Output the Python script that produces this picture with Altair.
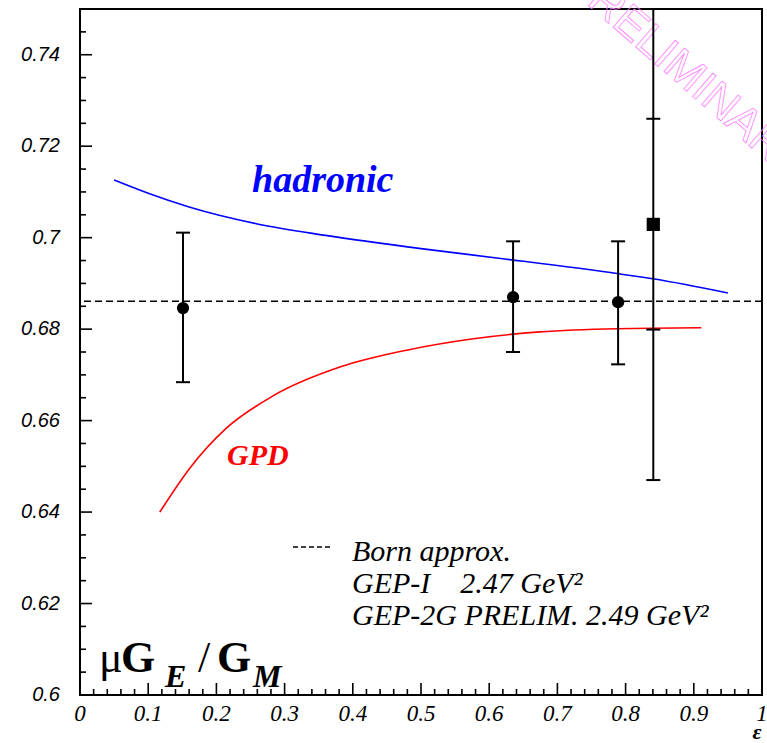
import altair as alt
import pandas as pd

# ---------------- data ----------------
circ_eps = [0.151, 0.635, 0.789]
circ_ratio = [0.6846, 0.6870, 0.6859]
circ_low = [0.6684, 0.6750, 0.6723]
circ_high = [0.7011, 0.6992, 0.6992]

sq_eps = [0.8406]
sq_ratio = [0.7029]
sq_stat_low = [0.6799]
sq_stat_high = [0.7260]
sq_tot_low = [0.6470]
sq_tot_high = [0.7590]

had_eps = [0.05, 0.10, 0.16, 0.26, 0.36, 0.50, 0.62, 0.79, 0.84, 0.95]
had_ratio = [0.7126, 0.7097, 0.7067, 0.7030, 0.7005, 0.6976, 0.6954, 0.6921, 0.6910, 0.6879]

gpd_eps = [0.117, 0.161, 0.215, 0.283, 0.381, 0.479, 0.577, 0.674, 0.787, 0.911]
gpd_ratio = [0.6400, 0.6496, 0.6584, 0.6654, 0.6717, 0.6754, 0.6779, 0.6794, 0.6801, 0.6803]

born_ratio = [0.6861]

x_major = [0.0, 0.1, 0.2, 0.3, 0.4, 0.5, 0.6, 0.7, 0.8, 0.9, 1.0]
x_labels = ["0", "0.1", "0.2", "0.3", "0.4", "0.5", "0.6", "0.7", "0.8", "0.9", "1"]
x_minor = [0.02, 0.04, 0.06, 0.08, 0.12, 0.14, 0.16, 0.18, 0.22, 0.24, 0.26, 0.28,
           0.32, 0.34, 0.36, 0.38, 0.42, 0.44, 0.46, 0.48, 0.52, 0.54, 0.56, 0.58,
           0.62, 0.64, 0.66, 0.68, 0.72, 0.74, 0.76, 0.78, 0.82, 0.84, 0.86, 0.88,
           0.92, 0.94, 0.96, 0.98]
y_major = [0.6, 0.62, 0.64, 0.66, 0.68, 0.7, 0.72, 0.74]
y_labels = ["0.6", "0.62", "0.64", "0.66", "0.68", "0.7", "0.72", "0.74"]
y_minor = [0.605, 0.61, 0.615, 0.625, 0.63, 0.635, 0.645, 0.65, 0.655, 0.665, 0.67,
           0.675, 0.685, 0.69, 0.695, 0.705, 0.71, 0.715, 0.725, 0.73, 0.735, 0.745, 0.75]

# ---------------- tables ----------------
df_circ = pd.DataFrame({"eps": circ_eps, "r": circ_ratio, "lo": circ_low, "hi": circ_high})
df_sq = pd.DataFrame({"eps": sq_eps, "r": sq_ratio, "lo": sq_tot_low, "hi": sq_tot_high})
df_caps = pd.DataFrame({
    "eps": circ_eps * 2 + sq_eps * 4,
    "v": circ_low + circ_high + sq_tot_low + sq_tot_high + sq_stat_low + sq_stat_high,
})
df_had = pd.DataFrame({"eps": had_eps, "r": had_ratio})
df_gpd = pd.DataFrame({"eps": gpd_eps, "r": gpd_ratio})
df_born = pd.DataFrame({"r": born_ratio})
df_xlab = pd.DataFrame({"v": x_major, "t": x_labels})
df_ylab = pd.DataFrame({"v": y_major, "t": y_labels})

W, H = 682, 686
XS = alt.Scale(domain=[0, 1], nice=False, zero=False)
YS = alt.Scale(domain=[0.6, 0.75], nice=False, zero=False)


def X(field):
    return alt.X(field, scale=XS, axis=None)


def Y(field):
    return alt.Y(field, scale=YS, axis=None)


# inward axis ticks (ROOT style), placed through the scales
def xticks(vals, length):
    return alt.Chart(pd.DataFrame({"v": vals})).mark_tick(
        color="black", orient="vertical", size=length, thickness=1.6, opacity=1).encode(
        x=X("v:Q"), y=alt.value(H - length / 2))


def yticks(vals, length):
    return alt.Chart(pd.DataFrame({"v": vals})).mark_tick(
        color="black", orient="horizontal", size=length, thickness=1.6, opacity=1).encode(
        y=Y("v:Q"), x=alt.value(length / 2))


# tick labels, placed through the same scales
xlab = alt.Chart(df_xlab).mark_text(
    font="Liberation Serif", fontStyle="italic", fontSize=23, color="black",
    align="center", baseline="top").encode(
    x=X("v:Q"), y=alt.value(H + 8), text="t:N")

ylab = alt.Chart(df_ylab).mark_text(
    font="Liberation Sans", fontStyle="italic", fontSize=20, color="black",
    align="right", baseline="middle").encode(
    y=Y("v:Q"), x=alt.value(-20), text="t:N")

born = alt.Chart(df_born).mark_rule(color="black", strokeWidth=1.5, strokeDash=[7, 4]).encode(
    y=Y("r:Q"))

had = alt.Chart(df_had).mark_line(color="#0000ff", strokeWidth=1.6, interpolate="monotone").encode(
    x=X("eps:Q"), y=Y("r:Q"))

gpd = alt.Chart(df_gpd).mark_line(color="#ff0000", strokeWidth=1.6, interpolate="monotone").encode(
    x=X("eps:Q"), y=Y("r:Q"))

circ_err = alt.Chart(df_circ).mark_rule(color="black", strokeWidth=2).encode(
    x=X("eps:Q"), y=Y("lo:Q"), y2="hi:Q")

sq_err = alt.Chart(df_sq).mark_rule(color="black", strokeWidth=2, clip=True).encode(
    x=X("eps:Q"), y=Y("lo:Q"), y2="hi:Q")

caps = alt.Chart(df_caps).mark_tick(color="black", orient="horizontal", size=14,
                                    thickness=2, clip=True, opacity=1).encode(
    x=X("eps:Q"), y=Y("v:Q"))

circ_pts = alt.Chart(df_circ).mark_point(shape="circle", filled=True, size=150,
                                         color="black", opacity=1).encode(
    x=X("eps:Q"), y=Y("r:Q"))

sq_pts = alt.Chart(df_sq).mark_point(shape="square", filled=True, size=175,
                                     color="black", opacity=1).encode(
    x=X("eps:Q"), y=Y("r:Q"))


def txt(s, x, y, size, color="black", font="Liberation Serif", style="italic",
        weight="normal", align="left", baseline="alphabetic", **kw):
    return alt.Chart(pd.DataFrame({"t": [s]})).mark_text(
        font=font, fontSize=size, fontStyle=style, fontWeight=weight, color=color,
        align=align, baseline=baseline, **kw).encode(
        text="t:N", x=alt.value(x), y=alt.value(y))


watermark = alt.Chart(pd.DataFrame({"t": ["PRELIMINARY"]})).mark_text(
    font="Liberation Sans", fontSize=45, angle=41, align="center", baseline="middle",
    fill="#ffffff", fillOpacity=0, stroke="#ff80ff", strokeWidth=0.8).encode(
    text="t:N", x=alt.value(607), y=alt.value(64))

legend_line = alt.Chart(pd.DataFrame({"a": [0]})).mark_rule(
    color="black", strokeWidth=1.5, strokeDash=[5, 3]).encode(
    x=alt.value(213), x2=alt.value(251), y=alt.value(538))

texts = [
    txt("hadronic", 172, 183, 38, color="#0000ff", weight="bold"),
    txt("GPD", 147, 456, 30, color="#ff0000", weight="bold"),
    txt("Born approx.", 272, 552, 30),
    txt("GEP-I\u00a0\u00a0\u00a0\u00a02.47 GeV\u00b2", 272, 584, 30),
    txt("GEP-2G PRELIM. 2.49 GeV\u00b2", 272, 616, 30),
    txt("\u03bc", 19, 663, 44, style="normal"),
    txt("G", 41, 663, 44, style="normal", weight="bold"),
    txt("E", 85, 678, 32, weight="bold"),
    txt("/", 118, 663, 44, style="normal"),
    txt("G", 137, 663, 44, style="normal", weight="bold"),
    txt("M", 173, 678, 32, weight="bold"),
    txt("\u03b5", 677, 730, 22, weight="bold", align="center"),
]

chart = alt.layer(
    watermark,
    xticks(x_major, 12), xticks(x_minor, 6), yticks(y_major, 12), yticks(y_minor, 6),
    born, had, gpd, circ_err, sq_err, caps, circ_pts, sq_pts, legend_line,
    xlab, ylab, *texts
).properties(
    width=W, height=H,
    padding={"left": 80, "top": 9, "right": 5, "bottom": 48},
    autosize=alt.AutoSizeParams(type="none"),
    background="white",
).configure_view(stroke="black", strokeWidth=2)

chart.save("out.html", embed_options={"renderer": "svg", "actions": False})
